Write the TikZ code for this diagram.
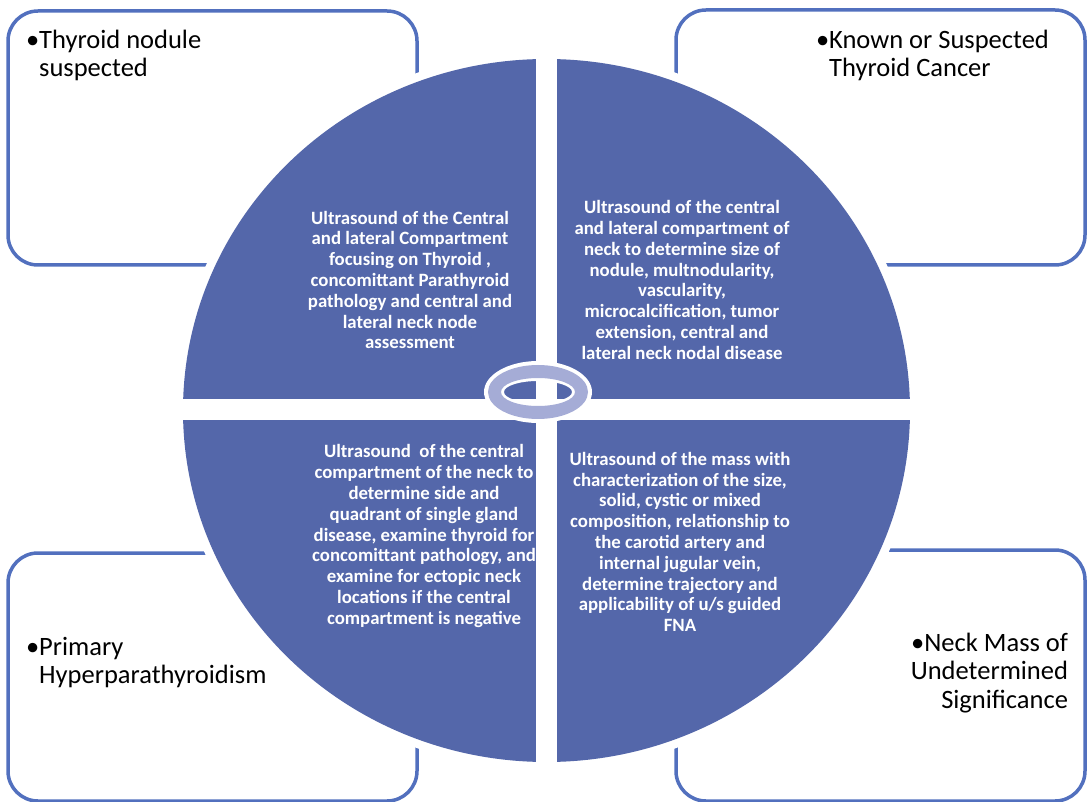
\documentclass[tikz,border=0pt]{standalone}
\usepackage{fontspec}
\setmainfont{Carlito}
\usepackage{tikz}
\usetikzlibrary{positioning}
\definecolor{discblue}{RGB}{84,103,170}
\definecolor{boxblue}{RGB}{82,112,190}
\definecolor{ringlav}{RGB}{165,172,214}

\begin{document}
\begin{tikzpicture}[x=1pt, y=-1pt, outer sep=0pt,
  casebox/.style={rectangle, draw=boxblue, line width=3.5pt, rounded corners=30pt, minimum width=409pt},
  caselabel/.style={font=\fontsize{26.5}{28.5}\selectfont, inner sep=0pt},
  quadtext/.style={text=white, font=\bfseries\fontsize{18.8}{20.8}\selectfont, align=center, inner sep=0pt}]

  \useasboundingbox (0,0) rectangle (1088,802);

  % case boxes in the corners
  \node[casebox, minimum height=254pt] (boxtl) at (212.5,138) {};
  \node[casebox, minimum height=255pt] (boxtr) at (880.5,137.5) {};
  \node[casebox, minimum height=248pt] (boxbl) at (212.5,677) {};
  \node[casebox, minimum height=251pt] (boxbr) at (880.5,675.5) {};

  \node[caselabel, align=left, below right=19pt and 18pt of boxtl.north west] (nodule)
    {•Thyroid nodule\\\hphantom{•}suspected};
  \node[caselabel, align=left, below right=20pt and 140pt of boxtr.north west] (cancer)
    {•Known or Suspected\\\hphantom{•}Thyroid Cancer};
  \node[caselabel, align=left, below right=84pt and 18pt of boxbl.north west] (hyperpara)
    {•Primary\\\hphantom{•}Hyperparathyroidism};
  \node[caselabel, align=right, below left=83pt and 17pt of boxbr.north east] (neckmass)
    {•Neck Mass of\\Undetermined\\Significance};

  % the disc, cut in four
  \fill[white] (546.5,410.5) ellipse [x radius=372, y radius=360];
  \fill[discblue] (546.5,410.5) ellipse [x radius=363.5, y radius=351.5];
  \fill[white] (536,40) rectangle (557,780);
  \fill[white] (170,399) rectangle (925,420);

  % ring in the middle
  \fill[white, even odd rule] (538,392) ellipse [x radius=54, y radius=31]
    (538,392) ellipse [x radius=34, y radius=11];
  \fill[ringlav, even odd rule] (538,392) ellipse [x radius=50, y radius=27]
    (538,392) ellipse [x radius=37, y radius=14];

  \node[quadtext] (usthyroid) at (410,280)
    {Ultrasound of the Central\\and lateral Compartment\\focusing on Thyroid ,\\concomittant Parathyroid\\pathology and central and\\lateral neck node\\assessment};
  \node[quadtext] (uscancer) at (682,280)
    {Ultrasound of the central\\and lateral compartment of\\neck to determine size of\\nodule, multnodularity,\\vascularity,\\microcalcification, tumor\\extension, central and\\lateral neck nodal disease};
  \node[quadtext] (uspara) at (424,536)
    {Ultrasound\ \ of the central\\compartment of the neck to\\determine side and\\quadrant of single gland\\disease, examine thyroid for\\concomittant pathology, and\\examine for ectopic neck\\locations if the central\\compartment is negative};
  \node[quadtext] (usmass) at (680,542)
    {Ultrasound of the mass with\\characterization of the size,\\solid, cystic or mixed\\composition, relationship to\\the carotid artery and\\internal jugular vein,\\determine trajectory and\\applicability of u/s guided\\FNA};

\end{tikzpicture}
\end{document}
